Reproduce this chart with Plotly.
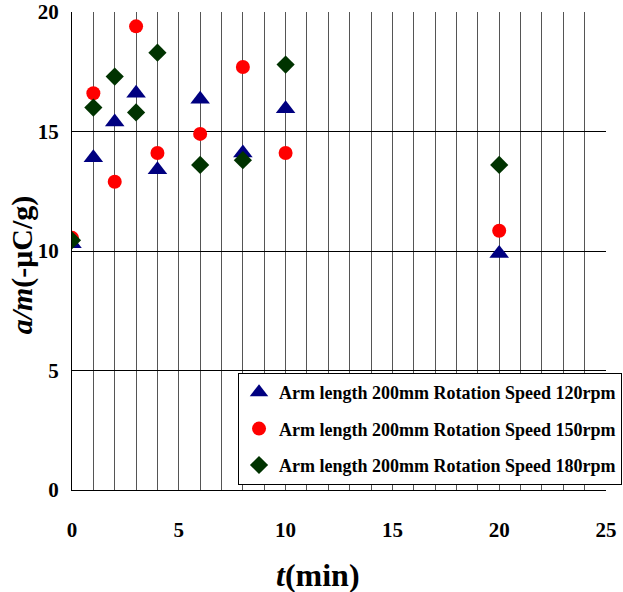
import plotly.graph_objects as go

t_min = [0, 1, 2, 3, 4, 6, 8, 10, 20]
qm_120 = [10.3, 13.9, 15.4, 16.6, 13.4, 16.35, 14.1, 15.95, 9.9]
qm_150 = [10.55, 16.6, 12.9, 19.4, 14.1, 14.9, 17.7, 14.1, 10.85]
qm_180 = [10.45, 16.0, 17.3, 15.8, 18.3, 13.6, 13.8, 17.8, 13.6]
names = ["Arm length 200mm Rotation Speed 120rpm",
         "Arm length 200mm Rotation Speed 150rpm",
         "Arm length 200mm Rotation Speed 180rpm"]
x_ticks = [0, 5, 10, 15, 20, 25]
y_ticks = [0, 5, 10, 15, 20]

FONT = "Times New Roman, Liberation Serif, DejaVu Serif, serif"

fig = go.Figure()
fig.add_trace(go.Scatter(x=t_min, y=qm_120, mode="markers", name=names[0], legendgroup="a",
                         marker=dict(symbol="triangle-up", size=17, color="#000080")))
fig.add_trace(go.Scatter(x=t_min, y=qm_150, mode="markers", name=names[1], legendgroup="b",
                         marker=dict(symbol="circle", size=14, color="#FF0000")))
fig.add_trace(go.Scatter(x=t_min, y=qm_180, mode="markers", name=names[2], legendgroup="c",
                         marker=dict(symbol="diamond", size=14, color="#003300")))

fig.update_layout(
    width=623, height=592,
    margin=dict(l=72, r=17, t=12, b=102, autoexpand=False),
    paper_bgcolor="white", plot_bgcolor="white",
    font=dict(family=FONT, color="black", size=20),
    showlegend=True,
    legend=dict(x=0.3109, y=0.2448, xanchor="left", yanchor="top",
                bgcolor="white", bordercolor="black", borderwidth=1,
                font=dict(family=FONT, size=18, color="black", weight="bold"),
                traceorder="grouped", tracegroupgap=10),
    xaxis=dict(range=[0, 25], tickvals=x_ticks, ticktext=[f"<b>{v}</b>" for v in x_ticks],
               showline=True, linecolor="black", linewidth=1,
               showgrid=True, gridcolor="#555555", gridwidth=1,
               minor=dict(dtick=1, showgrid=True, gridcolor="#555555", gridwidth=1),
               zeroline=False, ticks="", ticklabelstandoff=21,
               tickfont=dict(size=21, family=FONT)),
    yaxis=dict(range=[0, 20], tickvals=y_ticks, ticktext=[f"<b>{v}</b>" for v in y_ticks],
               showline=True, linecolor="black", linewidth=1,
               showgrid=True, gridcolor="black", gridwidth=1,
               zeroline=False, ticks="", ticklabelstandoff=8,
               tickfont=dict(size=21, family=FONT)),
    annotations=[
        dict(text="<b><i>a/m</i>(-μC/g)</b>", xref="paper", yref="paper",
             x=-0.093, y=0.4707, xanchor="center", yanchor="middle", textangle=-90,
             showarrow=False, font=dict(family=FONT, size=30, color="black")),
        dict(text="<b><i>t</i>(min)</b>", xref="paper", yref="paper",
             x=0.4607, y=-0.178, xanchor="center", yanchor="middle",
             showarrow=False, font=dict(family=FONT, size=32, color="black")),
    ],
)

fig.write_html("out.html")
